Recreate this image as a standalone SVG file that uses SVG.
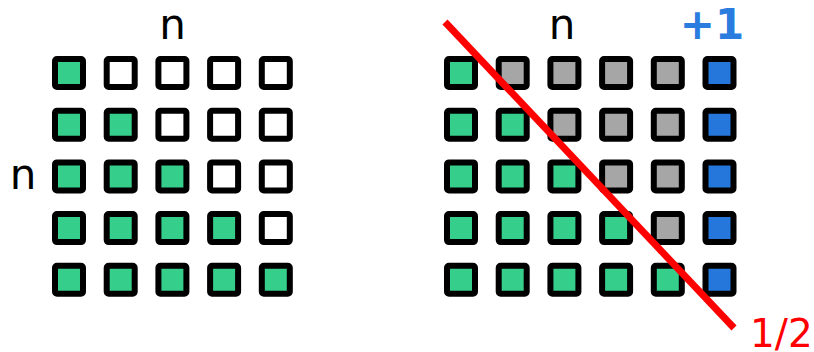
<svg xmlns="http://www.w3.org/2000/svg" width="814" height="352" viewBox="0 0 814 352">
<style>
.c{stroke:#000;stroke-width:6;stroke-linejoin:round;width:28px;height:28px}
.g{fill:#35ce8a}
.w{fill:#fff}
.s{fill:#a6a6a6}
.b{fill:#2577dc}
.t{font-family:"DejaVu Sans",sans-serif;font-size:42px;fill:#000}
</style>
<rect width="814" height="352" fill="#fff"/>
<g id="left-grid">
<rect class="c g" x="55" y="59" rx="2"/><rect class="c w" x="106.7" y="59" rx="2"/><rect class="c w" x="158.4" y="59" rx="2"/><rect class="c w" x="210.1" y="59" rx="2"/><rect class="c w" x="261.8" y="59" rx="2"/>
<rect class="c g" x="55" y="110.7" rx="2"/><rect class="c g" x="106.7" y="110.7" rx="2"/><rect class="c w" x="158.4" y="110.7" rx="2"/><rect class="c w" x="210.1" y="110.7" rx="2"/><rect class="c w" x="261.8" y="110.7" rx="2"/>
<rect class="c g" x="55" y="162.4" rx="2"/><rect class="c g" x="106.7" y="162.4" rx="2"/><rect class="c g" x="158.4" y="162.4" rx="2"/><rect class="c w" x="210.1" y="162.4" rx="2"/><rect class="c w" x="261.8" y="162.4" rx="2"/>
<rect class="c g" x="55" y="214.1" rx="2"/><rect class="c g" x="106.7" y="214.1" rx="2"/><rect class="c g" x="158.4" y="214.1" rx="2"/><rect class="c g" x="210.1" y="214.1" rx="2"/><rect class="c w" x="261.8" y="214.1" rx="2"/>
<rect class="c g" x="55" y="265.8" rx="2"/><rect class="c g" x="106.7" y="265.8" rx="2"/><rect class="c g" x="158.4" y="265.8" rx="2"/><rect class="c g" x="210.1" y="265.8" rx="2"/><rect class="c g" x="261.8" y="265.8" rx="2"/>
</g>
<g id="right-grid">
<rect class="c g" x="447" y="59" rx="2"/><rect class="c s" x="498.7" y="59" rx="2"/><rect class="c s" x="550.4" y="59" rx="2"/><rect class="c s" x="602.1" y="59" rx="2"/><rect class="c s" x="653.8" y="59" rx="2"/><rect class="c b" x="705.5" y="59" rx="2"/>
<rect class="c g" x="447" y="110.7" rx="2"/><rect class="c g" x="498.7" y="110.7" rx="2"/><rect class="c s" x="550.4" y="110.7" rx="2"/><rect class="c s" x="602.1" y="110.7" rx="2"/><rect class="c s" x="653.8" y="110.7" rx="2"/><rect class="c b" x="705.5" y="110.7" rx="2"/>
<rect class="c g" x="447" y="162.4" rx="2"/><rect class="c g" x="498.7" y="162.4" rx="2"/><rect class="c g" x="550.4" y="162.4" rx="2"/><rect class="c s" x="602.1" y="162.4" rx="2"/><rect class="c s" x="653.8" y="162.4" rx="2"/><rect class="c b" x="705.5" y="162.4" rx="2"/>
<rect class="c g" x="447" y="214.1" rx="2"/><rect class="c g" x="498.7" y="214.1" rx="2"/><rect class="c g" x="550.4" y="214.1" rx="2"/><rect class="c g" x="602.1" y="214.1" rx="2"/><rect class="c s" x="653.8" y="214.1" rx="2"/><rect class="c b" x="705.5" y="214.1" rx="2"/>
<rect class="c g" x="447" y="265.8" rx="2"/><rect class="c g" x="498.7" y="265.8" rx="2"/><rect class="c g" x="550.4" y="265.8" rx="2"/><rect class="c g" x="602.1" y="265.8" rx="2"/><rect class="c g" x="653.8" y="265.8" rx="2"/><rect class="c b" x="705.5" y="265.8" rx="2"/>
</g>
<g id="connectors">
<line x1="445" y1="22" x2="734" y2="328" stroke="#ff0000" stroke-width="7"/>
</g>
<g id="labels">
<text class="t" x="172.5" y="39" text-anchor="middle">n</text>
<text class="t" x="23" y="189" text-anchor="middle">n</text>
<text class="t" x="562" y="39" text-anchor="middle">n</text>
<text class="t" x="712" y="39" text-anchor="middle" font-weight="bold" style="fill:#2a7ddf">+1</text>
<text class="t" x="750" y="347" style="fill:#ff0000;font-size:39px">1/2</text>
</g>
</svg>
